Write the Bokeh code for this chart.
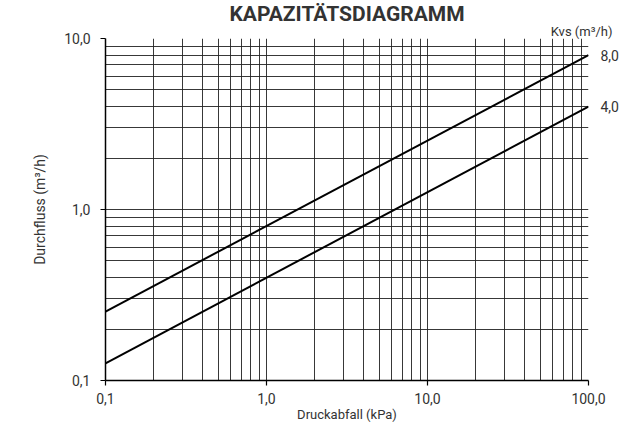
from bokeh.plotting import figure
from bokeh.models import FixedTicker, Range1d, LogAxis, Title
from bokeh.embed import file_html
from bokeh.resources import INLINE

# Data
dp = [0.1, 100.0]                 # Druckabfall (kPa), line endpoints
q_kvs8 = [0.253, 8.0]             # Durchfluss for Kvs 8,0
q_kvs4 = [0.126, 4.0]             # Durchfluss for Kvs 4,0
kvs_values = [8.0, 4.0]
kvs_labels = ["8,0", "4,0"]

x_ticks = [0.1, 1.0, 10.0, 100.0]
x_tick_labels = ["0,1", "1,0", "10,0", "100,0"]
y_ticks = [0.1, 1.0, 10.0]
y_tick_labels = ["0,1", "1,0", "10,0"]
grid_x = [0.1, 0.2, 0.3, 0.4, 0.5, 0.6, 0.7, 0.8, 0.9,
          1, 2, 3, 4, 5, 6, 7, 8, 9,
          10, 20, 30, 40, 50, 60, 70, 80, 90, 100]
grid_y = [0.1, 0.2, 0.3, 0.4, 0.5, 0.6, 0.7, 0.8, 0.9,
          1, 2, 3, 4, 5, 6, 7, 8, 9, 10]

FONT = "Roboto"
TXT = "#333333"

W, H = 640, 424
p = figure(width=W, height=H, x_axis_type="log", y_axis_type="log",
           x_range=Range1d(0.1, 100), y_range=Range1d(0.1, 10),
           output_backend="svg", toolbar_location=None,
           min_border_left=105, min_border_right=52,
           min_border_top=38, min_border_bottom=40)
p.outline_line_color = None
p.background_fill_color = "white"

for g, ticks in ((p.xgrid[0], grid_x), (p.ygrid[0], grid_y)):
    g.ticker = FixedTicker(ticks=ticks)
    g.grid_line_color = "#222222"
    g.grid_line_width = 1
    g.grid_line_alpha = 0.9

p.xaxis.ticker = FixedTicker(ticks=x_ticks)
p.xaxis.major_label_overrides = {t: l for t, l in zip(x_ticks, x_tick_labels)}
p.yaxis.ticker = FixedTicker(ticks=y_ticks)
p.yaxis.major_label_overrides = {t: l for t, l in zip(y_ticks, y_tick_labels)}

for ax in (p.xaxis[0], p.yaxis[0]):
    ax.axis_line_color = "black"
    ax.axis_line_width = 1.5
    ax.major_tick_line_color = "black"
    ax.major_tick_line_width = 1.2
    ax.major_tick_out = 5
    ax.major_tick_in = 0
    ax.minor_tick_out = 0
    ax.minor_tick_in = 0
    ax.major_label_text_font = FONT
    ax.major_label_text_font_size = "14px"
    ax.major_label_text_color = TXT
    ax.axis_label_text_font = FONT
    ax.axis_label_text_font_style = "normal"
    ax.axis_label_text_color = TXT

p.xaxis.major_label_standoff = 7
p.xaxis.axis_label = "Druckabfall (kPa)"
p.xaxis.axis_label_text_font_size = "13px"
p.xaxis.axis_label_standoff = 0

p.yaxis.major_label_standoff = 10
p.yaxis.axis_label = "Durchfluss (m³/h)"
p.yaxis.axis_label_text_font_size = "14px"
p.yaxis.axis_label_standoff = 13

# Right axis carrying the Kvs curve labels
kvs_axis = LogAxis(ticker=FixedTicker(ticks=kvs_values),
                   major_label_overrides={v: l for v, l in zip(kvs_values, kvs_labels)},
                   axis_line_color=None, major_tick_line_color=None,
                   minor_tick_line_color=None, major_label_standoff=6,
                   major_label_text_font=FONT, major_label_text_font_size="14px",
                   major_label_text_color=TXT)
p.add_layout(kvs_axis, "right")

p.line(dp, q_kvs8, line_color="black", line_width=2)
p.line(dp, q_kvs4, line_color="black", line_width=2)

# Header texts: "Kvs (m³/h)" next to the frame, main title above it
p.add_layout(Title(text="Kvs (m³/h)", align="right", offset=-24, standoff=0,
                   text_font=FONT, text_font_style="normal", text_font_size="13px",
                   text_color=TXT), "above")
p.title.text = "KAPAZITÄTSDIAGRAMM"
p.title.align = "center"
p.title.standoff = -9
p.title.text_font = FONT
p.title.text_font_style = "bold"
p.title.text_font_size = "21px"
p.title.text_color = TXT

open("out.html", "w").write(file_html(p, INLINE))
